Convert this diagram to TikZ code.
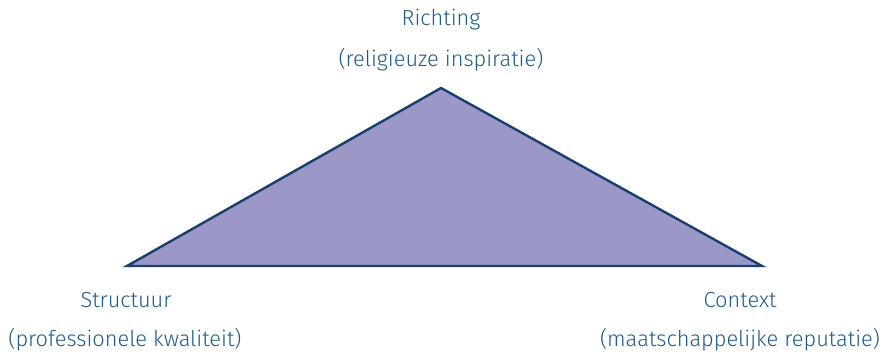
\documentclass[tikz,border=0pt]{standalone}
\usepackage{fontspec}
\setmainfont{Fira Sans}[UprightFont={* Light}]
\definecolor{txtblue}{HTML}{1F5A8C}
\definecolor{edgeblue}{HTML}{1A3F6E}
\definecolor{fillpurple}{HTML}{9B98C8}
\begin{document}
\begin{tikzpicture}[x=1pt,y=-1pt,
  lbl/.style={text=txtblue,font=\fontsize{21.8}{24}\selectfont,inner sep=0pt,anchor=center}]
\useasboundingbox (0,0) rectangle (885,355);
\coordinate (T) at (441,88);
\coordinate (L) at (127,266);
\coordinate (R) at (762,266);
\filldraw[fill=fillpurple,draw=edgeblue,line width=2.4pt,line join=miter] (T) -- (L) -- (R) -- cycle;
\node[lbl] (r1) at (441,20) {Richting};
\node[lbl] (r2) at (441,60) {(religieuze inspiratie)};
\node[lbl] (s1) at (126,300) {Structuur};
\node[lbl] (s2) at (125,340) {(professionele kwaliteit)};
\node[lbl] (c1) at (740,300) {Context};
\node[lbl] (c2) at (740,340) {(maatschappelijke reputatie)};
\end{tikzpicture}
\end{document}
